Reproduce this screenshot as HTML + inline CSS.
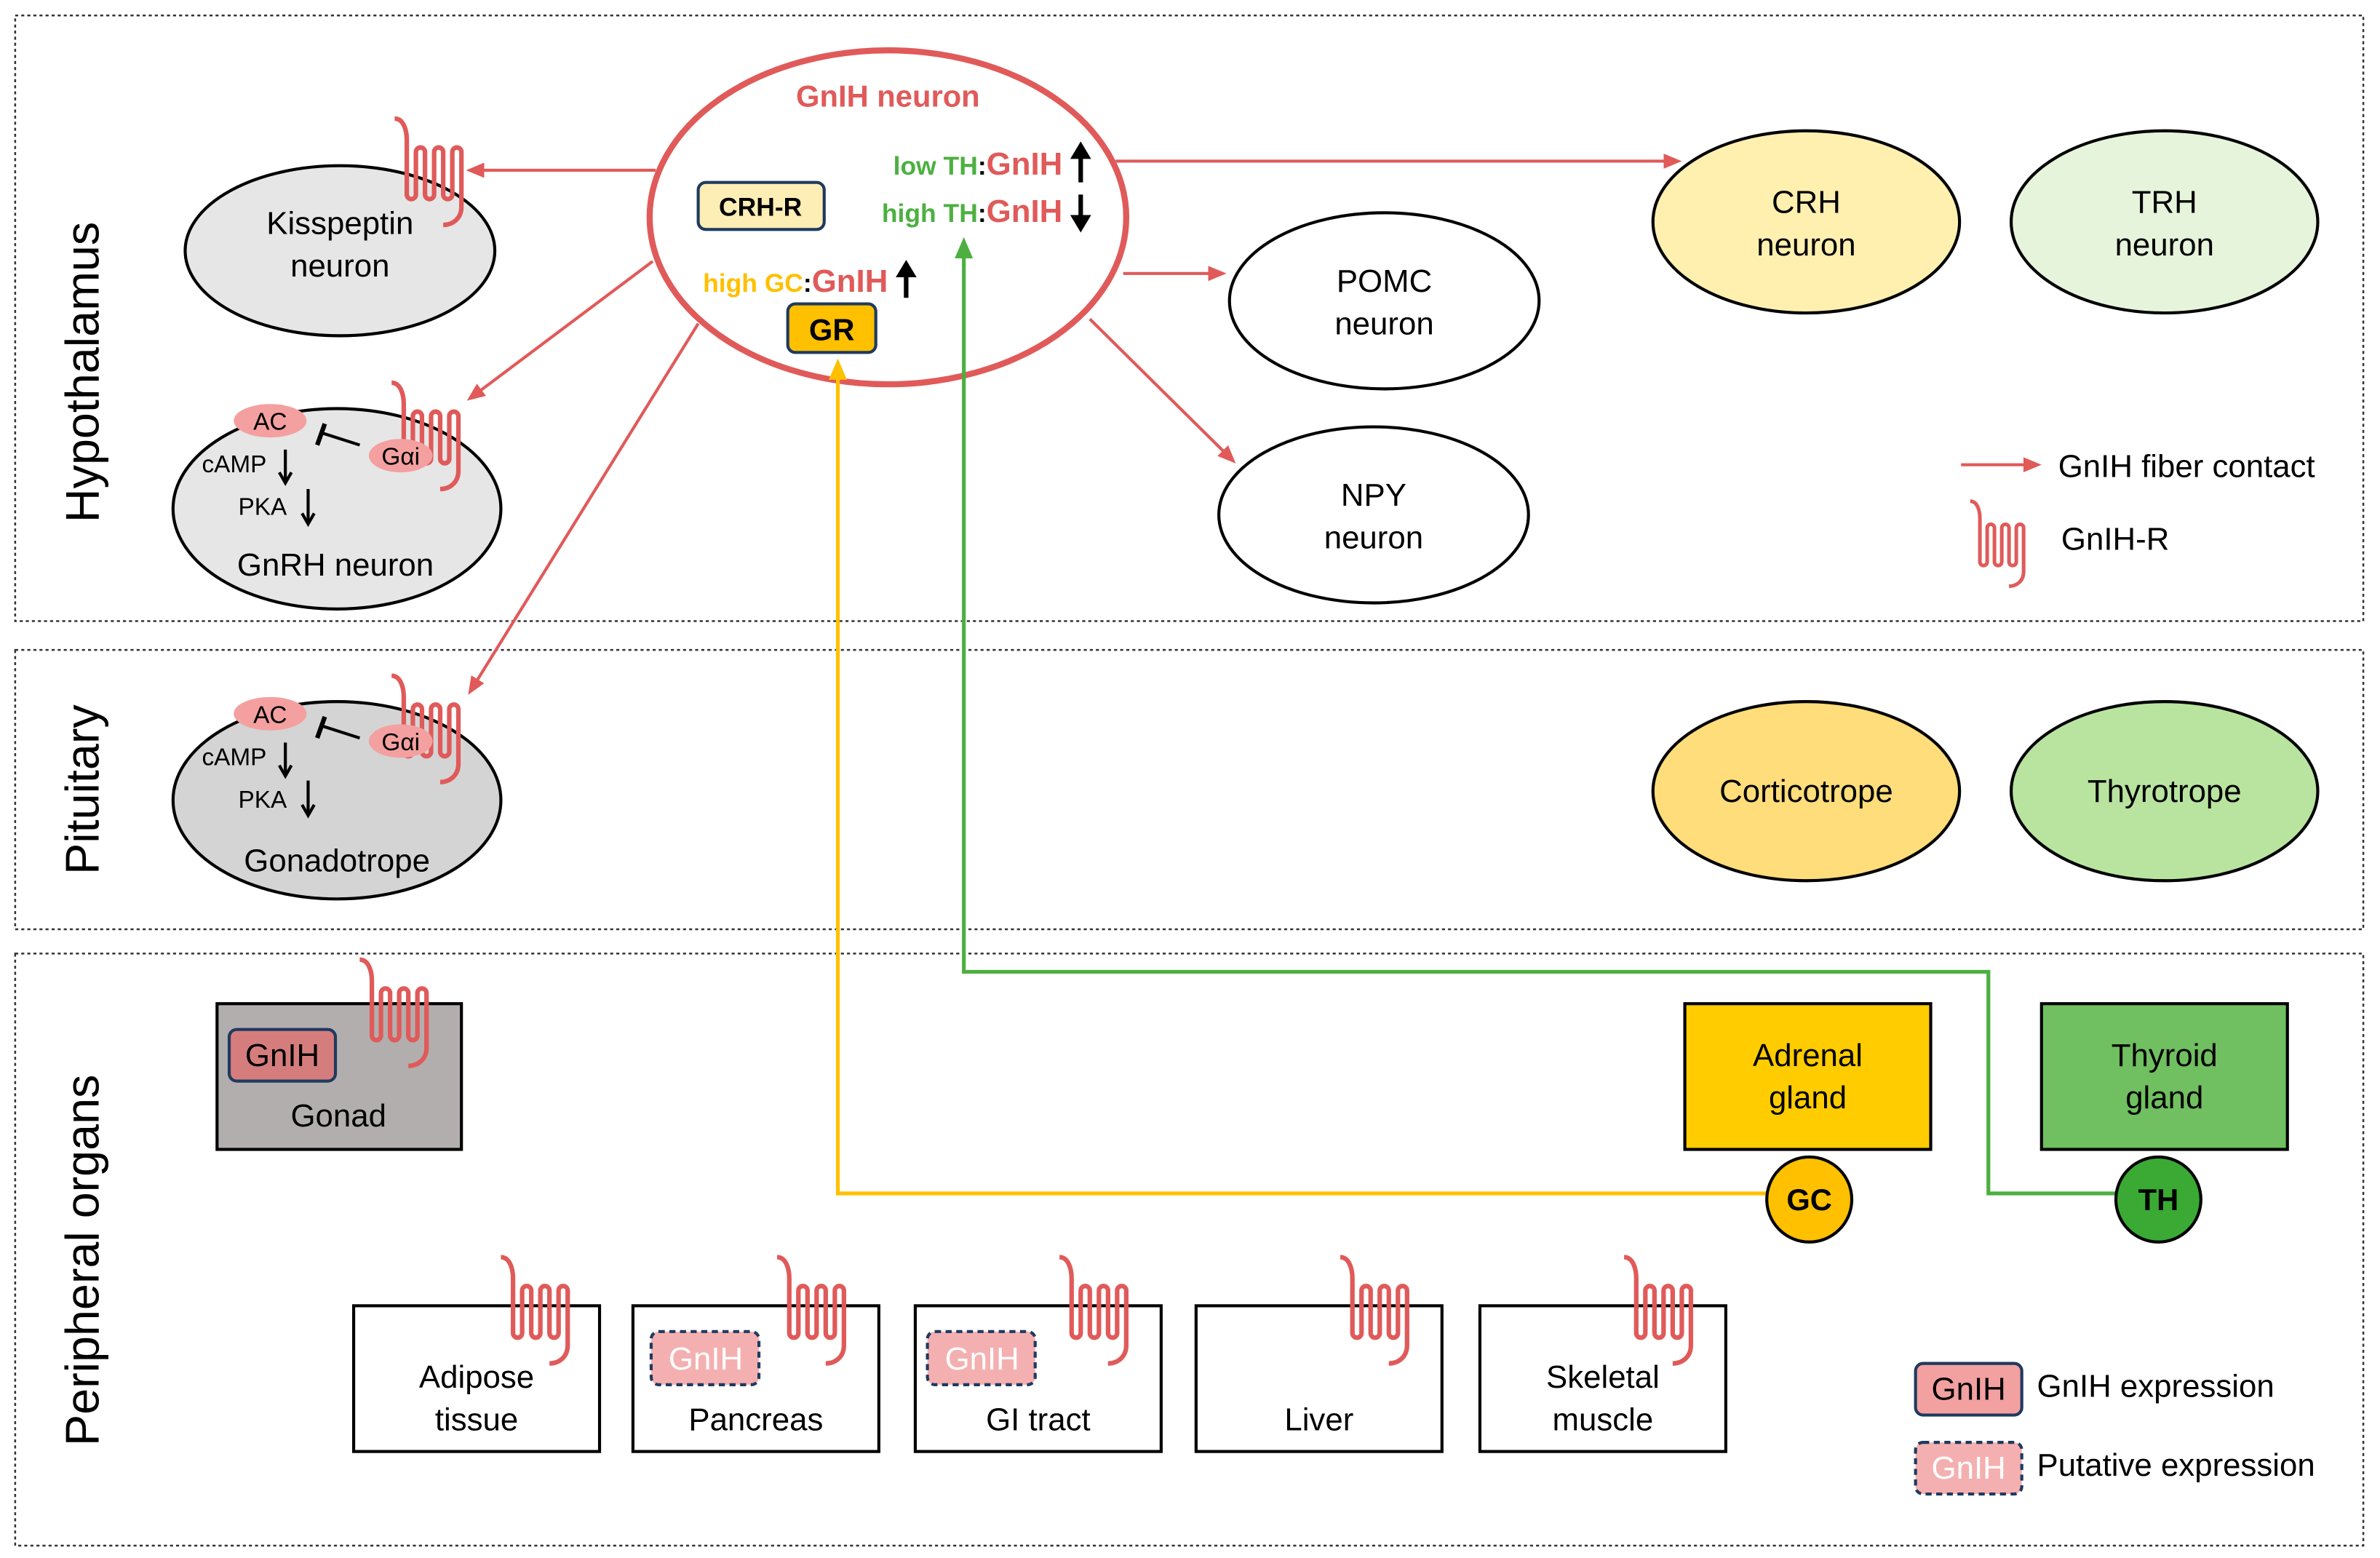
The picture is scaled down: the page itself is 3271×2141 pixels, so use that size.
<!DOCTYPE html>
<html><head><meta charset="utf-8"><style>
html,body{margin:0;padding:0;background:#fff}
svg{display:block}
text{font-family:"Liberation Sans",Arial,sans-serif}
</style></head><body>
<svg width="3271" height="2141" viewBox="0 0 1568 1026" xmlns="http://www.w3.org/2000/svg">
<defs>
<marker id="ar" markerWidth="12" markerHeight="10" refX="9" refY="5" orient="auto" markerUnits="userSpaceOnUse"><path d="M0,0 L12,5 L0,10 z" fill="#e05a5a"/></marker>
<g id="rc"><path d="M0,0 C6,0 8,8 8,14 L8,50 A3,3 0 0 0 14,50 L14,22 A3,3 0 0 1 20,22 L20,50 A3,3 0 0 0 26,50 L26,22 A3,3 0 0 1 32,22 L32,50 A3,3 0 0 0 38,50 L38,22 A3,3 0 0 1 44,22 L44,58 C44,66 38,70 32,70" fill="none" stroke="#e05a5a" stroke-width="3"/></g>
</defs>
<g fill="none" stroke="#333" stroke-width="1.2" stroke-dasharray="2,2">
<rect x="10" y="10" width="1547" height="399"/>
<rect x="10" y="428" width="1547" height="184"/>
<rect x="10" y="628" width="1547" height="390"/>
</g>
<g font-size="31" text-anchor="middle" fill="#000">
<text transform="translate(65,245) rotate(-90)">Hypothalamus</text>
<text transform="translate(65,520) rotate(-90)">Pituitary</text>
<text transform="translate(65,830) rotate(-90)">Peripheral organs</text>
</g>
<!-- connectors -->
<g stroke="#e05a5a" stroke-width="2" fill="none">
<line x1="432" y1="112" x2="310" y2="112" marker-end="url(#ar)"/>
<line x1="430" y1="172" x2="310" y2="262" marker-end="url(#ar)"/>
<line x1="460" y1="213" x2="310" y2="455" marker-end="url(#ar)"/>
<line x1="740" y1="180" x2="805" y2="180" marker-end="url(#ar)"/>
<line x1="718" y1="210" x2="812" y2="303" marker-end="url(#ar)"/>
<line x1="735" y1="106" x2="1105" y2="106" marker-end="url(#ar)"/>
<line x1="1292" y1="306" x2="1342" y2="306" marker-end="url(#ar)"/>
</g>
<!-- hypothalamus nodes -->
<g stroke="#000" stroke-width="2">
<ellipse cx="224" cy="165" rx="102" ry="56" fill="#e6e6e6"/>
<ellipse cx="222" cy="335" rx="108" ry="66" fill="#e6e6e6"/>
<ellipse cx="222" cy="527" rx="108" ry="65" fill="#d4d4d4"/>
<ellipse cx="912" cy="198" rx="102" ry="58" fill="#fff"/>
<ellipse cx="905" cy="339" rx="102" ry="58" fill="#fff"/>
<ellipse cx="1190" cy="146" rx="101" ry="60" fill="#fff0b0"/>
<ellipse cx="1426" cy="146" rx="101" ry="60" fill="#e6f4dc"/>
<ellipse cx="1190" cy="521" rx="101" ry="59" fill="#fedd7a"/>
<ellipse cx="1426" cy="521" rx="101" ry="59" fill="#b9e4a0"/>
</g>
<ellipse cx="585" cy="143" rx="157" ry="110" fill="#fff" stroke="#e05a5a" stroke-width="4"/>
<polyline points="1164,786 552,786 552,248" fill="none" stroke="#ffc000" stroke-width="2.5"/>
<path d="M546,250 L552,236 L558,250 z" fill="#ffc000"/>
<polyline points="1394,786 1310,786 1310,640 635,640 635,168" fill="none" stroke="#4cb040" stroke-width="2.5"/>
<path d="M629,170 L635,156 L641,170 z" fill="#4cb040"/>
<g font-size="21" text-anchor="middle" fill="#000">
<text x="224" y="154">Kisspeptin</text><text x="224" y="182">neuron</text>
<text x="221" y="379">GnRH neuron</text>
<text x="222" y="574">Gonadotrope</text>
<text x="912" y="192">POMC</text><text x="912" y="220">neuron</text>
<text x="905" y="333">NPY</text><text x="905" y="361">neuron</text>
<text x="1190" y="140">CRH</text><text x="1190" y="168">neuron</text>
<text x="1426" y="140">TRH</text><text x="1426" y="168">neuron</text>
<text x="1190" y="528">Corticotrope</text>
<text x="1426" y="528">Thyrotrope</text>
</g>
<!-- receptors -->
<use href="#rc" x="260" y="78"/>
<use href="#rc" x="258" y="252"/>
<use href="#rc" x="258" y="445"/>
<use href="#rc" transform="translate(1298,330) scale(0.8)"/>
<!-- GnRH / gonadotrope internals -->
<g>
<ellipse cx="178" cy="277" rx="24" ry="11" fill="#f4a0a0"/>
<ellipse cx="264" cy="300" rx="21" ry="11" fill="#f4a0a0"/>
<ellipse cx="178" cy="470" rx="24" ry="11" fill="#f4a0a0"/>
<ellipse cx="264" cy="488" rx="21" ry="11" fill="#f4a0a0"/>
</g>
<g font-size="16" fill="#000" text-anchor="middle">
<text x="178" y="283">AC</text><text x="264" y="306">Gαi</text>
<text x="178" y="476">AC</text><text x="264" y="494">Gαi</text>
</g>
<g font-size="16" fill="#000">
<text x="133" y="311">cAMP</text><text x="157" y="339">PKA</text>
<text x="133" y="504">cAMP</text><text x="157" y="532">PKA</text>
</g>
<g stroke="#000" stroke-width="2" fill="none">
<line x1="188" y1="296" x2="188" y2="316"/><path d="M184,311 L188,318 L192,311"/>
<line x1="203" y1="322" x2="203" y2="344"/><path d="M199,338 L203,345 L207,338"/>
<line x1="188" y1="489" x2="188" y2="509"/><path d="M184,504 L188,511 L192,504"/>
<line x1="203" y1="514" x2="203" y2="536"/><path d="M199,530 L203,537 L207,530"/>
<line x1="237" y1="293" x2="212" y2="285"/><line x1="214" y1="279" x2="209" y2="293" stroke-width="3"/>
<line x1="237" y1="486" x2="212" y2="478"/><line x1="214" y1="472" x2="209" y2="486" stroke-width="3"/>
</g>
<!-- GnIH neuron internals -->
<text x="585" y="70" font-size="20" font-weight="bold" fill="#e05a5a" text-anchor="middle">GnIH neuron</text>
<rect x="460" y="120" width="83" height="31" rx="5" fill="#fdeeb5" stroke="#1f3a5f" stroke-width="2"/>
<text x="501" y="142" font-size="17" font-weight="bold" text-anchor="middle">CRH-R</text>
<rect x="519" y="200" width="58" height="32" rx="5" fill="#ffc000" stroke="#1f3a5f" stroke-width="2"/>
<text x="548" y="224" font-size="20" font-weight="bold" text-anchor="middle">GR</text>
<g font-size="17" font-weight="bold">
<text x="700" y="115" text-anchor="end"><tspan fill="#4cb040">low TH</tspan><tspan fill="#000">:</tspan><tspan fill="#e05a5a" font-size="21">GnIH</tspan></text>
<text x="700" y="146" text-anchor="end"><tspan fill="#4cb040">high TH</tspan><tspan fill="#000">:</tspan><tspan fill="#e05a5a" font-size="21">GnIH</tspan></text>
<text x="585" y="192" text-anchor="end"><tspan fill="#ffc000">high GC</tspan><tspan fill="#000">:</tspan><tspan fill="#e05a5a" font-size="21">GnIH</tspan></text>
</g>
<g stroke="#000" stroke-width="3" fill="#000">
<line x1="712" y1="120" x2="712" y2="102"/><path d="M706,104 L712,94 L718,104 z" stroke-width="1"/>
<line x1="712" y1="128" x2="712" y2="144"/><path d="M706,142 L712,152 L718,142 z" stroke-width="1"/>
<line x1="597" y1="196" x2="597" y2="180"/><path d="M591,182 L597,172 L603,182 z" stroke-width="1"/>
</g>
<g font-size="21" fill="#000">
<text x="1356" y="314">GnIH fiber contact</text>
<text x="1358" y="362">GnIH-R</text>
<text x="1342" y="920">GnIH expression</text>
<text x="1342" y="972">Putative expression</text>
</g>
<!-- peripheral -->
<g stroke="#000" stroke-width="2">
<rect x="143" y="661" width="161" height="96" fill="#b3aeae"/>
<rect x="1110" y="661" width="162" height="96" fill="#ffcc00"/>
<rect x="1345" y="661" width="162" height="96" fill="#70bf60"/>
<rect x="233" y="860" width="162" height="96" fill="none"/>
<rect x="417" y="860" width="162" height="96" fill="none"/>
<rect x="603" y="860" width="162" height="96" fill="none"/>
<rect x="788" y="860" width="162" height="96" fill="none"/>
<rect x="975" y="860" width="162" height="96" fill="none"/>
<circle cx="1192" cy="790" r="28" fill="#ffc000"/>
<circle cx="1422" cy="790" r="28" fill="#3aaa35"/>
</g>
<use href="#rc" x="237" y="632"/>
<use href="#rc" x="330" y="828"/>
<use href="#rc" x="512" y="828"/>
<use href="#rc" x="698" y="828"/>
<use href="#rc" x="883" y="828"/>
<use href="#rc" x="1070" y="828"/>
<rect x="151" y="678" width="70" height="34" rx="5" fill="#d57d7d" stroke="#1f3a5f" stroke-width="2"/>
<rect x="429" y="877" width="71" height="35" rx="5" fill="#f4b0b0" stroke="#1f3a5f" stroke-width="2" stroke-dasharray="4,3"/>
<rect x="611" y="877" width="71" height="35" rx="5" fill="#f4b0b0" stroke="#1f3a5f" stroke-width="2" stroke-dasharray="4,3"/>
<rect x="1262" y="898" width="70" height="34" rx="5" fill="#f2a0a0" stroke="#1f3a5f" stroke-width="2"/>
<rect x="1262" y="950" width="70" height="34" rx="5" fill="#f4b0b0" stroke="#1f3a5f" stroke-width="2" stroke-dasharray="4,3"/>
<g font-size="21" text-anchor="middle" fill="#000">
<text x="186" y="702">GnIH</text>
<text x="223" y="742">Gonad</text>
<text x="1191" y="702">Adrenal</text><text x="1191" y="730">gland</text>
<text x="1426" y="702">Thyroid</text><text x="1426" y="730">gland</text>
<text x="314" y="914">Adipose</text><text x="314" y="942">tissue</text>
<text x="498" y="942">Pancreas</text>
<text x="684" y="942">GI tract</text>
<text x="869" y="942">Liver</text>
<text x="1056" y="914">Skeletal</text><text x="1056" y="942">muscle</text>
<text x="1297" y="922">GnIH</text>
</g>
<g font-size="21" text-anchor="middle" fill="#fff">
<text x="465" y="902">GnIH</text>
<text x="647" y="902">GnIH</text>
<text x="1297" y="974">GnIH</text>
</g>
<g font-size="20" font-weight="bold" text-anchor="middle" fill="#000">
<text x="1192" y="797">GC</text>
<text x="1422" y="797">TH</text>
</g>
</svg>
</body></html>
